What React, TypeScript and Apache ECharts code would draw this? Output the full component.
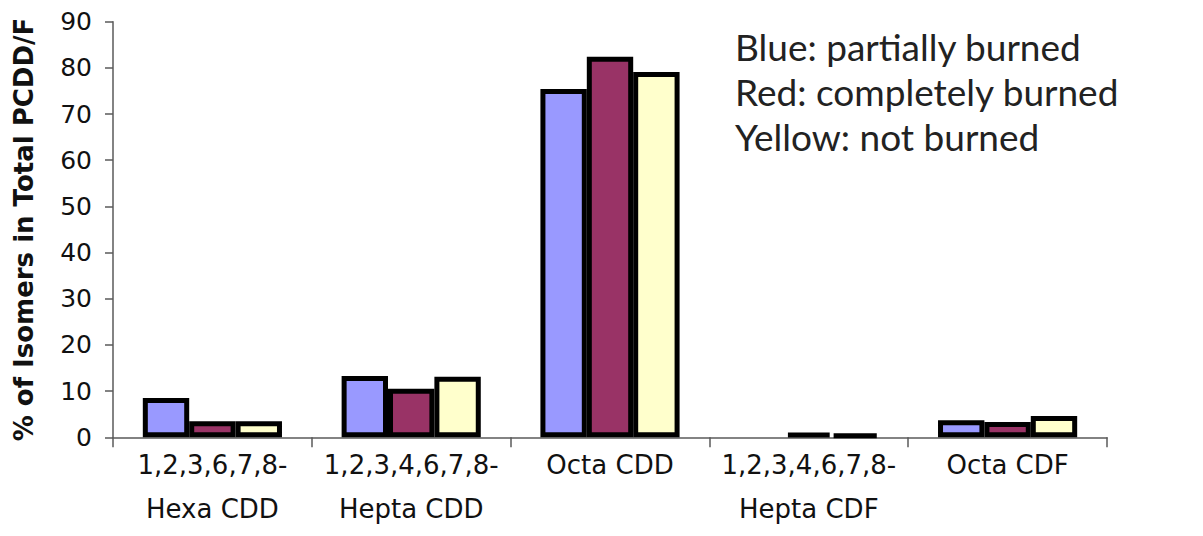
import React, { useEffect, useRef } from "react";
import * as echarts from "echarts";

// Congener groups along the x axis
const categories = [
  "1,2,3,6,7,8-\nHexa CDD",
  "1,2,3,4,6,7,8-\nHepta CDD",
  "Octa CDD",
  "1,2,3,4,6,7,8-\nHepta CDF",
  "Octa CDF",
];

// % of isomers in total PCDD/F per burning state
const partiallyBurned = [8.5, 13.3, 75.4, 0, 3.7];
const completelyBurned = [3.5, 10.5, 82.4, 1.0, 3.3];
const notBurned = [3.5, 13.1, 79.1, 0.7, 4.6];

const yTicks = [0, 10, 20, 30, 40, 50, 60, 70, 80, 90];

const noteLines = [
  "Blue: partially burned",
  "Red: completely burned",
  "Yellow: not burned",
];

const seriesDefs = [
  { name: "partially burned", data: partiallyBurned, color: "#9999FF" },
  { name: "completely burned", data: completelyBurned, color: "#993366" },
  { name: "not burned", data: notBurned, color: "#FFFFCC" },
];

export default function App() {
  const ref = useRef<HTMLDivElement>(null);

  useEffect(() => {
    if (!ref.current) return;
    const chart = echarts.init(ref.current, null, { renderer: "svg" });

    chart.setOption({
      animation: false,
      backgroundColor: "#ffffff",
      grid: { left: 113, right: 96, top: 21.7, bottom: 98.7 },
      xAxis: {
        type: "category",
        data: categories,
        axisLine: { lineStyle: { color: "#5a5a5a", width: 1.5 } },
        axisTick: {
          show: true,
          length: 10,
          alignWithLabel: false,
          lineStyle: { color: "#5a5a5a", width: 1.5 },
        },
        axisLabel: {
          interval: 0,
          margin: 6,
          color: "#111",
          fontFamily: "DejaVu Sans",
          fontSize: 26,
          lineHeight: 44,
        },
      },
      yAxis: {
        type: "value",
        min: yTicks[0],
        max: yTicks[yTicks.length - 1],
        interval: 10,
        name: "% of Isomers in Total PCDD/F",
        nameLocation: "middle",
        nameGap: 76,
        nameTextStyle: {
          fontFamily: "DejaVu Sans",
          fontWeight: "bold",
          fontSize: 26,
          color: "#111",
        },
        splitLine: { show: false },
        axisLine: { show: true, lineStyle: { color: "#5a5a5a", width: 1.5 } },
        axisTick: { show: true, length: 8, lineStyle: { color: "#5a5a5a", width: 1.5 } },
        axisLabel: {
          margin: 21,
          color: "#111",
          fontFamily: "DejaVu Sans",
          fontSize: 25,
        },
      },
      series: seriesDefs.map((s) => ({
        type: "bar",
        name: s.name,
        barGap: "0%",
        barCategoryGap: "30%",
        data: s.data.map((v) =>
          v === 0 ? { value: v, itemStyle: { borderWidth: 0 } } : v
        ),
        itemStyle: { color: s.color, borderColor: "#000", borderWidth: 5 },
      })),
      graphic: [
        {
          type: "text",
          x: 735,
          y: 24,
          style: {
            text: noteLines.join("\n"),
            fontFamily: "Lato",
            fontSize: 37,
            lineHeight: 45,
            fill: "#222",
            verticalAlign: "top",
          },
        },
      ],
    });

    return () => chart.dispose();
  }, []);

  return (
    <div
      ref={ref}
      style={{ position: "fixed", left: 0, top: 0, width: 1203, height: 536 }}
    />
  );
}
